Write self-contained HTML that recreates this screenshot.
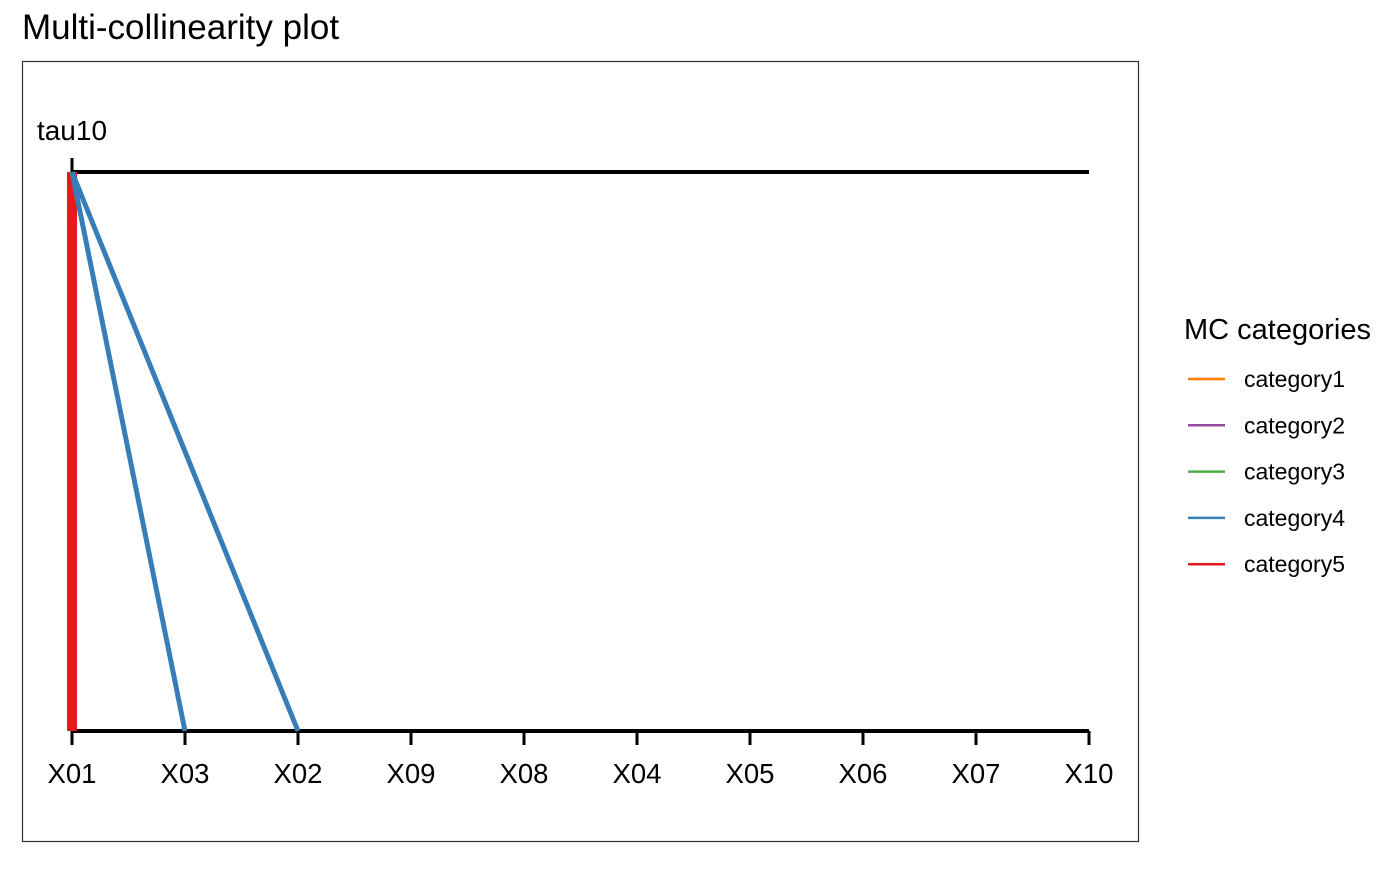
<!DOCTYPE html>
<html><head><meta charset="utf-8"><style>
body{margin:0;background:#fff;font-family:"Liberation Sans",sans-serif;}
svg text{font-family:"Liberation Sans",sans-serif;}
</style></head><body>
<svg id="chart" width="1400" height="865" viewBox="0 0 1400 865">
<text x="22" y="39" font-size="35" fill="#000">Multi-collinearity plot</text>
<rect x="22.5" y="61.5" width="1116" height="780" fill="#fff" stroke="#333" stroke-width="1.2"/>
<g id="plot"></g>
<g id="legend"></g>
</svg>
<script>
const categories = ['X01','X03','X02','X09','X08','X04','X05','X06','X07','X10'];
const topVars = ['X01'];
const topLabels = ['tau10'];
const edgeFrom = ['X01','X01','X01'];
const edgeTo = ['X01','X03','X02'];
const edgeCat = [5,4,4];
const catNames = ['category1','category2','category3','category4','category5'];
const catColors = ['#ff7f00','#984ea3','#4daf4a','#377eb8','#e41a1c'];
const catWidths = [5,5,5,5,10];

const NS='http://www.w3.org/2000/svg';
const x0=72, x1=1089, yTop=172, yBot=731;
function xScale(v){return x0+categories.indexOf(v)*(x1-x0)/(categories.length-1);}
function mk(tag,attrs,parent){const e=document.createElementNS(NS,tag);for(const k in attrs)e.setAttribute(k,attrs[k]);parent.appendChild(e);return e;}
const g=document.getElementById('plot');

let l=mk('line',{x1:x0,x2:x1,y1:yTop,y2:yTop,stroke:'#000','stroke-width':4},g);


l=mk('line',{x1:x0,x2:x1,y1:yBot,y2:yBot,stroke:'#000','stroke-width':4},g);



topVars.forEach((v,i)=>{
  const x=xScale(v);
  const t=mk('line',{x1:x,x2:x,y1:158,y2:yTop,stroke:'#000','stroke-width':3},g);
  
  
  const tx=mk('text',{x:x,y:140,'font-size':28,'text-anchor':'middle'},g);
  tx.textContent=topLabels[i];
  
  
});
categories.forEach(v=>{
  const x=xScale(v);
  const t=mk('line',{x1:x,x2:x,y1:yBot,y2:745,stroke:'#000','stroke-width':3},g);
  
  
  const tx=mk('text',{x:x,y:783,'font-size':27.5,'text-anchor':'middle'},g);
  tx.textContent=v;
  
  
});
edgeFrom.forEach((f,i)=>{
  const c=edgeCat[i]-1;
  const e=mk('line',{x1:xScale(f),y1:yTop,x2:xScale(edgeTo[i]),y2:yBot,stroke:catColors[c],'stroke-width':catWidths[c]},g);
  
  
});

const lg=document.getElementById('legend');
const lt=mk('text',{x:1184,y:339,'font-size':29},lg);
lt.textContent='MC categories';


catNames.forEach((n,i)=>{
  const y=379+i*46.3;
  const ln=mk('line',{x1:1188,x2:1225,y1:y,y2:y,stroke:catColors[i],'stroke-width':2.5},lg);
  
  
  const t=mk('text',{x:1244,y:y+8,'font-size':23},lg);
  t.textContent=n;
  
  
});
</script>
</body></html>
